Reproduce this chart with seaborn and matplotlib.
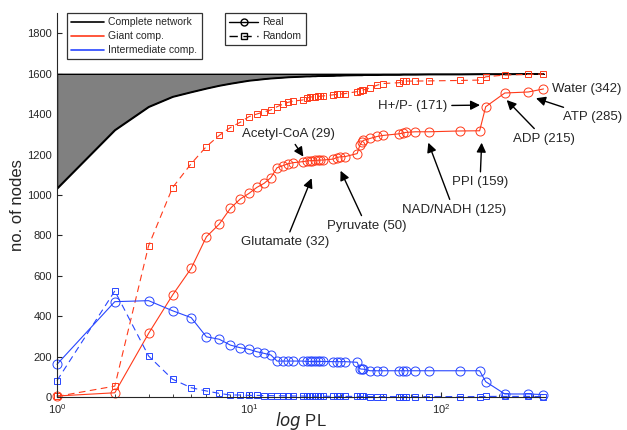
import matplotlib
matplotlib.use('Agg')
import numpy as np
import pandas as pd
import seaborn as sns
from matplotlib import pyplot as plt
from matplotlib.lines import Line2D

# PL thresholds
x_pl = [1, 2, 3, 4, 5, 6, 7, 8, 9, 10, 11, 12, 13, 14, 15, 16, 17, 19,
        20, 20.7, 21.4, 22.1, 22.8, 23.5, 24.2,
        27.5, 28.6, 29.8, 31.6,
        36.6, 37.8, 38.6, 39.4, 42.7, 46.6, 50,
        60.6, 63.6, 65.7, 73.5, 87,
        125, 159, 171, 215, 285, 342]

complete_net = [1033, 1322, 1437, 1487, 1510, 1528, 1542, 1552, 1560, 1567, 1571, 1575, 1578, 1580, 1582, 1584, 1585, 1587,
                1588, 1588, 1589, 1589, 1590, 1590, 1590,
                1591, 1592, 1592, 1593,
                1594, 1594, 1594, 1595, 1595, 1595, 1596,
                1596, 1597, 1597, 1597, 1598,
                1598, 1599, 1599, 1599, 1600, 1600]
total_nodes = 1600

giant_real = [5, 21, 315, 505, 637, 793, 856, 934, 980, 1008, 1038, 1058, 1086, 1135, 1145, 1155, 1160, 1165,
              1168, 1170, 1170, 1172, 1172, 1173, 1173,
              1178, 1185, 1189, 1190,
              1205, 1247, 1262, 1270, 1280, 1290, 1295,
              1303, 1307, 1310, 1313, 1313,
              1317, 1318, 1437, 1505, 1510, 1525]

giant_random = [3, 54, 749, 1037, 1155, 1240, 1295, 1334, 1360, 1388, 1401, 1412, 1421, 1437, 1449, 1459, 1465, 1470,
                1480, 1484, 1486, 1487, 1488, 1489, 1490,
                1496, 1498, 1500, 1502,
                1512, 1515, 1518, 1520, 1530, 1544, 1552,
                1556, 1562, 1564, 1564, 1565,
                1567, 1569, 1585, 1594, 1597, 1599]

inter_real = [162, 472, 477, 427, 393, 298, 286, 257, 244, 236, 224, 216, 208, 178, 178, 178, 178, 178,
              176, 176, 176, 176, 176, 176, 176,
              175, 175, 175, 175,
              172, 140, 138, 138, 130, 130, 130,
              130, 130, 130, 130, 130,
              130, 130, 76, 15, 15, 12]

inter_random = [81, 525, 203, 88, 46, 30, 18, 10, 10, 8, 8, 7, 7, 6, 6, 5, 5, 5,
                4, 4, 4, 4, 4, 4, 4,
                3, 3, 3, 3,
                3, 3, 3, 3, 2, 2, 2,
                2, 2, 2, 2, 2,
                2, 2, 3, 3, 3, 2]

# labels: text, text position, arrow tip
notes = [
    ('Acetyl-CoA (29)', (16.0, 1302), (19.2, 1190)),
    ('Glutamate (32)', (15.5, 765), (21.2, 1083)),
    ('Pyruvate (50)', (40.9, 846), (30.0, 1120)),
    ('NAD/NADH (125)', (116.5, 926), (85.9, 1259)),
    ('PPI (159)', (159.7, 1062), (162.9, 1259)),
    ('H+/P- (171)', (71.1, 1441), (159.7, 1445)),
    ('ADP (215)', (345, 1278), (219.9, 1470)),
    ('ATP (285)', (619, 1386), (312.6, 1479)),
]
water_note = ('Water (342)', (377, 1525))

red = '#ff3a1a'
blue = '#2846ff'

sns.set_style('ticks')
plt.rcParams['font.family'] = ['Liberation Sans', 'DejaVu Sans']
plt.rcParams['xtick.direction'] = 'in'
plt.rcParams['ytick.direction'] = 'in'

fig = plt.figure(figsize=(6.27, 4.30), dpi=100)
ax = fig.add_axes([0.0909, 0.0767, 0.779, 0.8926])

df = pd.DataFrame({'pl': x_pl, 'complete': complete_net, 'gr': giant_real, 'gx': giant_random,
                   'ir': inter_real, 'ix': inter_random})

ax.fill_between(df['pl'], df['complete'], total_nodes, facecolor='#808080', edgecolor='k', lw=1)
sns.lineplot(data=df, x='pl', y='complete', color='k', lw=1, ax=ax)

dash = (0, (6, 4))
common = dict(lw=0.8, mfc='none', mew=0.7, clip_on=False, ax=ax)
sns.lineplot(data=df, x='pl', y='gr', color=red, marker='o', ms=6.5, mec=red, **common)
sns.lineplot(data=df, x='pl', y='gx', color=red, marker='s', ms=5, mec=red, ls=dash, **common)
sns.lineplot(data=df, x='pl', y='ir', color=blue, marker='o', ms=6.5, mec=blue, **common)
sns.lineplot(data=df, x='pl', y='ix', color=blue, marker='s', ms=5, mec=blue, ls=dash, **common)

ax.set_xscale('log')
ax.set_xlim(1, 350)
ax.set_ylim(0, 1900)
ax.set_yticks(np.arange(0, 1801, 200))
ax.tick_params(labelsize=8, length=3.5, width=0.8)
ax.tick_params(which='minor', length=2, width=0.6)
sns.despine(ax=ax)
ax.spines['left'].set_linewidth(0.8)
ax.spines['bottom'].set_linewidth(0.8)
ax.set_ylabel('no. of nodes', fontsize=12, labelpad=2)
ax.set_xlabel(r'$\mathit{log}$ PL', fontsize=12, labelpad=-4)

for txt, pos, tip in notes:
    ax.annotate(txt, xy=tip, xytext=pos, ha='center', va='center', fontsize=9.5,
                annotation_clip=False,
                arrowprops=dict(arrowstyle='-|>', color='k', lw=1, mutation_scale=14,
                                shrinkA=1, shrinkB=0))
ax.text(water_note[1][0], water_note[1][1], water_note[0], ha='left', va='center', fontsize=9.5,
        clip_on=False)

h1 = [Line2D([], [], color='k', lw=1.2), Line2D([], [], color=red, lw=1.2),
      Line2D([], [], color=blue, lw=1.2)]
leg1 = ax.legend(h1, ['Complete network', 'Giant comp.', 'Intermediate comp.'],
                 loc='upper left', bbox_to_anchor=(0.02, 1.0), fontsize=7.5, handlelength=3.2,
                 frameon=True, fancybox=False, edgecolor='k', borderaxespad=0,
                 labelspacing=0.38, handletextpad=0.4, borderpad=0.4)
leg1.get_frame().set_linewidth(0.9)
ax.add_artist(leg1)
h2 = [Line2D([], [], color='k', lw=1, marker='o', ms=5, mfc='none', mew=1),
      Line2D([], [], color='k', lw=1, ls=dash, marker='s', ms=4, mfc='none', mew=1)]
leg2 = ax.legend(h2, ['Real', 'Random'], loc='upper left', bbox_to_anchor=(0.344, 1.0),
                 fontsize=7.5, handlelength=2.8, frameon=True, fancybox=False, edgecolor='k',
                 borderaxespad=0, labelspacing=0.38, handletextpad=0.4, borderpad=0.4)
leg2.get_frame().set_linewidth(0.9)

fig.savefig('out.png', dpi=100)
